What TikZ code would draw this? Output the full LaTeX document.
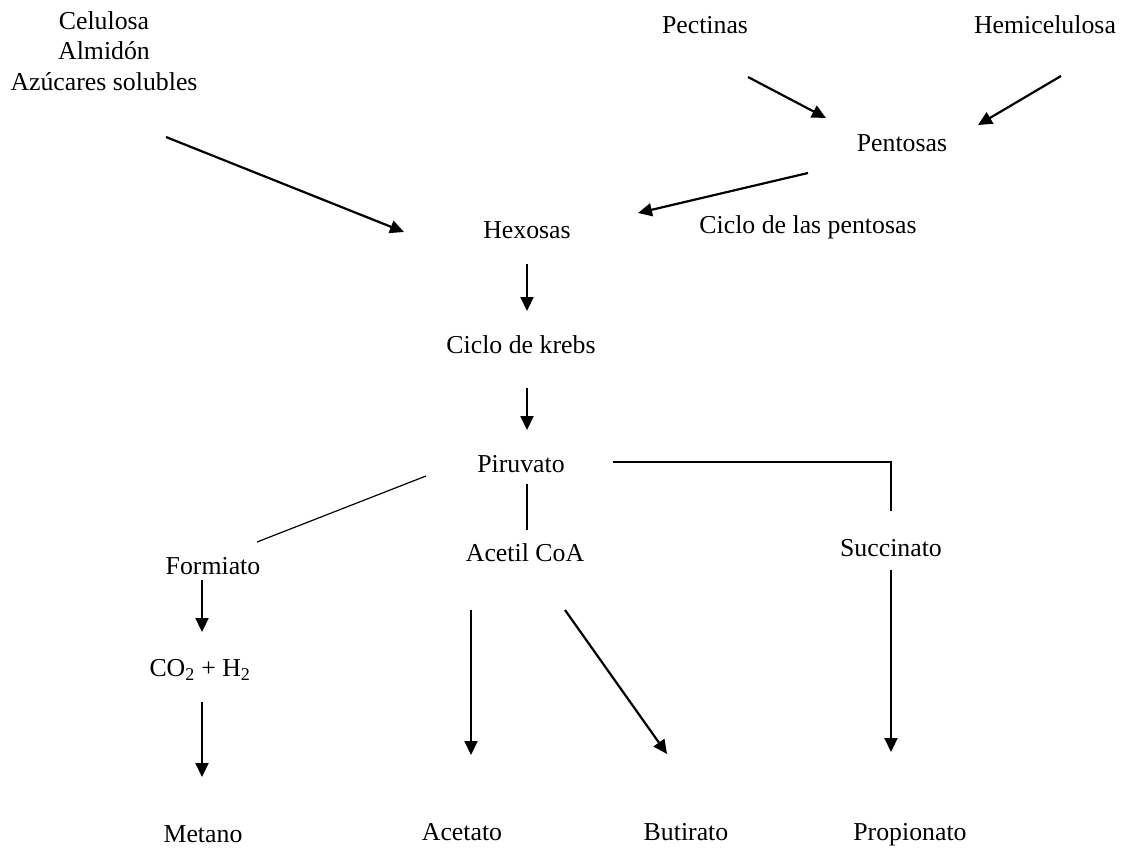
\documentclass[tikz,border=0pt]{standalone}
\usepackage{fontspec}
\setmainfont{Liberation Serif}
\usetikzlibrary{arrows.meta}
\begin{document}
\begin{tikzpicture}[x=1pt,y=-1pt,
  lbl/.style={inner sep=0pt,font=\fontsize{25.8}{30.5}\selectfont,align=center},
  arr/.style={line width=2.2pt,-{Triangle[length=14pt,width=13pt]}},
  ln/.style={line width=2.2pt},
  thin/.style={line width=1.2pt}]
\useasboundingbox (0,0) rectangle (1122,848);
% nodes
\node[lbl] (celulosa) at (104,51) {Celulosa\\Almidón\\Azúcares solubles};
\node[lbl] (pectinas) at (705,25) {Pectinas};
\node[lbl] (hemi) at (1045,25) {Hemicelulosa};
\node[lbl] (pentosas) at (902,143) {Pentosas};
\node[lbl] (hexosas) at (527,230) {Hexosas};
\node[lbl] (ciclopent) at (808,227) {Ciclo de las pentosas};
\node[lbl] (krebs) at (521,345) {Ciclo de krebs};
\node[lbl] (piruvato) at (521,464) {Piruvato};
\node[lbl] (formiato) at (213,566) {Formiato};
\node[lbl] (acetil) at (525,553) {Acetil CoA};
\node[lbl] (succinato) at (891,548) {Succinato};
\node[lbl] (co2) at (200,670) {CO\textsubscript{2} + H\textsubscript{2}};
\node[lbl] (metano) at (203,834) {Metano};
\node[lbl] (acetato) at (462,832) {Acetato};
\node[lbl] (butirato) at (686,832) {Butirato};
\node[lbl] (propionato) at (910,835) {Propionato};
% connector ends
\coordinate (c1s) at (166,137); \coordinate (c1e) at (404,232);
\coordinate (c2s) at (748,77); \coordinate (c2e) at (826,118);
\coordinate (c3s) at (1061,76); \coordinate (c3e) at (978,125);
\coordinate (c4s) at (808,173); \coordinate (c4e) at (638,213);
\coordinate (c5s) at (527,264); \coordinate (c5e) at (527,311);
\coordinate (c6s) at (527,388); \coordinate (c6e) at (527,430);
\coordinate (c7s) at (426,476); \coordinate (c7e) at (257,542);
\coordinate (c8s) at (527,484); \coordinate (c8e) at (527,530);
\coordinate (c9s) at (613,462); \coordinate (c9m) at (891,462); \coordinate (c9e) at (891,511);
\coordinate (c10s) at (202,580); \coordinate (c10e) at (202,632);
\coordinate (c11s) at (202,702); \coordinate (c11e) at (202,777);
\coordinate (c12s) at (471,610); \coordinate (c12e) at (471,755);
\coordinate (c13s) at (565,610); \coordinate (c13e) at (667,754);
\coordinate (c14s) at (891,570); \coordinate (c14e) at (891,752);
% connectors
\draw[arr] (c1s) -- (c1e);
\draw[arr] (c2s) -- (c2e);
\draw[arr] (c3s) -- (c3e);
\draw[arr] (c4s) -- (c4e);
\draw[arr] (c5s) -- (c5e);
\draw[arr] (c6s) -- (c6e);
\draw[thin] (c7s) -- (c7e);
\draw[ln] (c8s) -- (c8e);
\draw[ln] (c9s) -- (c9m) -- (c9e);
\draw[arr] (c10s) -- (c10e);
\draw[arr] (c11s) -- (c11e);
\draw[arr] (c12s) -- (c12e);
\draw[arr] (c13s) -- (c13e);
\draw[arr] (c14s) -- (c14e);
\end{tikzpicture}
\end{document}
